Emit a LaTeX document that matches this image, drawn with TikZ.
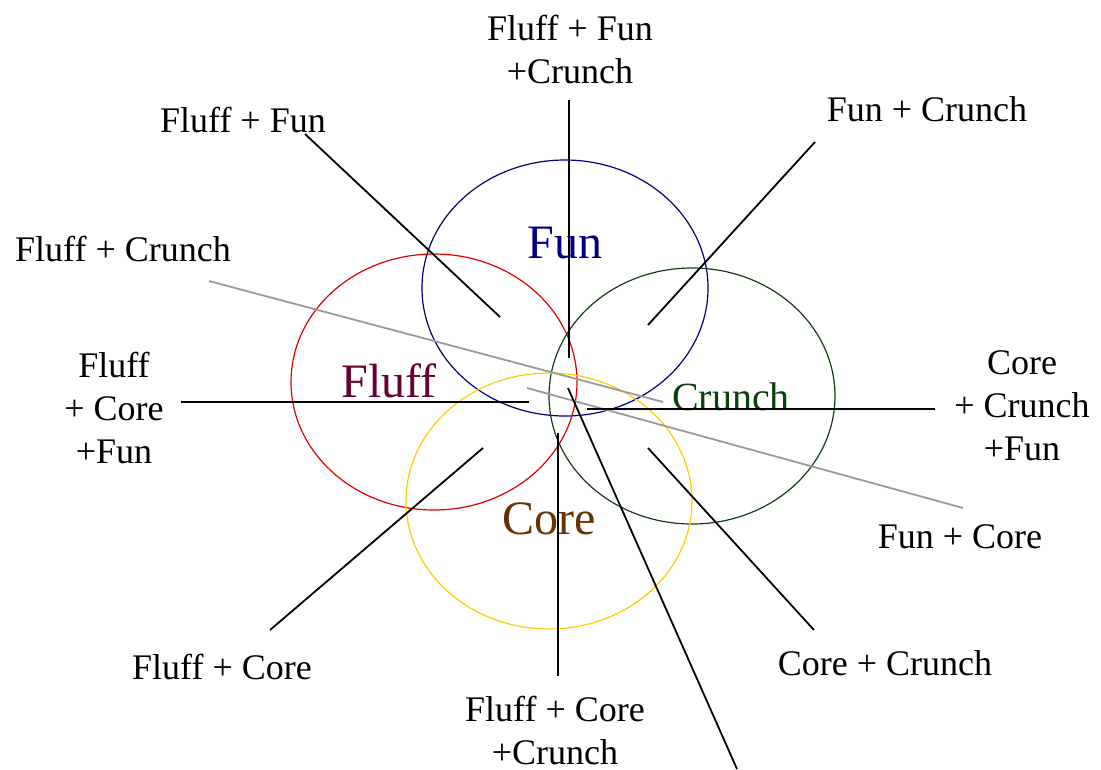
\documentclass[tikz,border=0pt]{standalone}
\usepackage{fontspec}
\setmainfont{Liberation Serif}
\usetikzlibrary{shapes.geometric}
\definecolor{funblue}{HTML}{000080}
\definecolor{fluffred}{HTML}{DD0000}
\definecolor{crunchgreen}{HTML}{113D11}
\definecolor{coregold}{HTML}{FFCC00}
\definecolor{flufftext}{HTML}{660033}
\definecolor{crunchtext}{HTML}{0A400A}
\definecolor{coretext}{HTML}{663300}
\definecolor{grayline}{HTML}{9A9A9A}
\tikzset{
  circ/.style={ellipse, draw, line width=1.2pt, minimum width=286pt, minimum height=256pt, inner sep=0pt},
  lbl/.style={align=center, font=\fontsize{36}{43}\selectfont, inner sep=0pt},
  big/.style={font=\fontsize{48}{50}\selectfont, inner sep=0pt},
  blk/.style={black, line width=1.8pt},
  gry/.style={grayline, line width=1.8pt}
}
\begin{document}
\begin{tikzpicture}[x=1pt,y=-1pt]
\useasboundingbox (0,0) rectangle (1101,769);
% circles
\node[circ, draw=funblue] (cfun) at (565,288) {};
\node[circ, draw=fluffred] (cfluff) at (434,382) {};
\node[circ, draw=crunchgreen] (ccrunch) at (692,396) {};
\node[circ, draw=coregold] (ccore) at (549,501) {};
% circle labels
\node[big, text=funblue] (tfun) at (565,243) {Fun};
\node[big, text=flufftext] (tfluff) at (389,381) {Fluff};
\node[font=\fontsize{40}{44}\selectfont, inner sep=0pt, text=crunchtext] (tcrunch) at (731,397) {Crunch};
\node[big, text=coretext] (tcore) at (549,519) {Core};
% outer labels
\node[lbl] (lffc) at (570,49) {Fluff + Fun\\+Crunch};
\node[lbl] (lff) at (243,120) {Fluff + Fun};
\node[lbl] (lfc) at (927,109) {Fun + Crunch};
\node[lbl] (lflc) at (123,249) {Fluff + Crunch};
\node[lbl] (lfcf) at (114,408) {Fluff\\+ Core\\+Fun};
\node[lbl] (lccf) at (1022,406) {Core\\+ Crunch\\+Fun};
\node[lbl] (lfco) at (960,537) {Fun + Core};
\node[lbl] (lflco) at (222,667) {Fluff + Core};
\node[lbl] (lcc) at (885,663) {Core + Crunch};
\node[lbl] (lfcc) at (555,730) {Fluff + Core\\+Crunch};
% line end coordinates
\coordinate (a1) at (305,134); \coordinate (a2) at (500,317);
\coordinate (b1) at (569,100); \coordinate (b2) at (569,358);
\coordinate (c1) at (815,142); \coordinate (c2) at (648,325);
\coordinate (d1) at (209,281); \coordinate (d2) at (663,402);
\coordinate (e1) at (527,388); \coordinate (e2) at (963,508);
\coordinate (f1) at (181,402); \coordinate (f2) at (529,402);
\coordinate (g1) at (587,409); \coordinate (g2) at (935,409);
\coordinate (h1) at (270,630); \coordinate (h2) at (483,448);
\coordinate (i1) at (558,433); \coordinate (i2) at (558,676);
\coordinate (j1) at (568,388); \coordinate (j2) at (737,769);
\coordinate (k1) at (648,448); \coordinate (k2) at (814,630);
% connectors
\draw[gry] (d1) -- (d2);
\draw[gry] (e1) -- (e2);
\draw[blk] (a1) -- (a2);
\draw[blk] (b1) -- (b2);
\draw[blk] (c1) -- (c2);
\draw[blk] (f1) -- (f2);
\draw[blk] (g1) -- (g2);
\draw[blk] (h1) -- (h2);
\draw[blk] (i1) -- (i2);
\draw[blk] (j1) -- (j2);
\draw[blk] (k1) -- (k2);
\end{tikzpicture}
\end{document}
